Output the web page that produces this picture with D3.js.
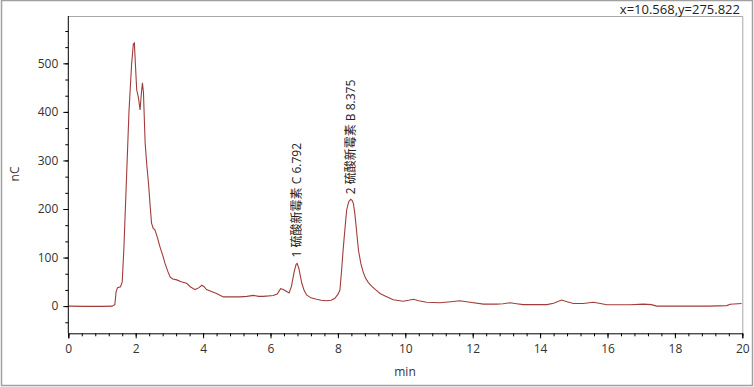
<!DOCTYPE html>
<html><head><meta charset="utf-8">
<script src="https://cdn.jsdelivr.net/npm/d3@7"></script>
<style>
html,body{margin:0;padding:0;background:#fff;}
text{font-family:"Segoe UI","Open Sans","Noto Sans","Noto Sans CJK SC",sans-serif;}
</style></head>
<body><svg id="c" width="754" height="387"></svg>
<script>
const times = [0,0.5,1.0,1.3,1.38,1.42,1.46,1.55,1.60,1.65,1.72,1.80,1.88,1.93,1.96,1.99,2.03,2.08,2.13,2.17,2.20,2.23,2.28,2.33,2.38,2.43,2.47,2.52,2.57,2.65,2.72,2.80,2.87,2.95,3.02,3.10,3.22,3.35,3.51,3.62,3.76,3.88,3.96,4.03,4.10,4.25,4.40,4.60,4.85,5.10,5.30,5.49,5.65,5.78,5.95,6.08,6.20,6.30,6.38,6.48,6.55,6.62,6.70,6.76,6.79,6.84,6.93,7.00,7.07,7.20,7.37,7.50,7.67,7.80,7.91,8.00,8.06,8.11,8.16,8.21,8.26,8.32,8.38,8.42,8.46,8.50,8.54,8.61,8.68,8.75,8.82,8.90,9.00,9.15,9.25,9.40,9.64,9.94,10.10,10.24,10.40,10.63,11.03,11.35,11.62,11.92,12.32,12.71,12.90,13.11,13.30,13.50,14.20,14.40,14.64,14.80,14.99,15.28,15.58,15.75,15.98,16.67,17.06,17.30,17.46,18.10,19.00,19.54,19.64,19.98];
const signal = [0,-0.5,-0.5,0,3,30,38,40,50,120,250,400,500,540,542,500,445,430,404,440,460,440,336,290,253,205,171,160,157,140,122,105,88,72,60,56,54,50,47,40,34,38,43,40,34,30,26,19,19,19,20,22,20,20,21,22,25,36,34,30,27,40,70,86,88,78,47,32,23,17,14,12,11,12,16,24,33,74,120,160,198,215,220,218,211,192,165,115,88,70,58,49,41,32,26,21,13,10,12,14,11,8,7,9,11,8,4,4,5,7,5,3,3,6,12.5,9,5.5,5.5,8,6,2.7,2.7,4,3,0,0,0,1,4,5.5];
const peakTimes = [6.792, 8.375];
const peakHeights = [88, 218];
const peakLabels = ["1 硫酸新霉素 C 6.792", "2 硫酸新霉素 B 8.375"];
const xTicks = [0,2,4,6,8,10,12,14,16,18,20];
const yTicks = [0,100,200,300,400,500];
const cursorText = "x=10.568,y=275.822";
const xLabel = "min", yLabel = "nC";

const svg = d3.select("#c");
const L = 68.3, R = 742.3, T = 16, B = 333.3;
const x = d3.scaleLinear().domain([0,20]).range([L,R]);
const y = d3.scaleLinear().domain([-56,597.5]).range([B,T]);

svg.append("rect").attr("x",1.5).attr("y",0.5).attr("width",751).attr("height",385)
  .attr("fill","none").attr("stroke","#a0a0a0").attr("stroke-width",1.5);
svg.append("path").attr("d",`M${L},${T+0.5}H${R+0.5}V${B}`).attr("fill","none").attr("stroke","#a8a8a8");

svg.append("text").attr("x",740).attr("y",14).attr("text-anchor","end")
  .attr("font-size",13).attr("fill","#222").text(cursorText);

const line = d3.line().x((d,i)=>x(times[i])).y((d,i)=>y(signal[i]));
svg.append("path").datum(signal).attr("d",line).attr("fill","none")
  .attr("stroke","#a13c3c").attr("stroke-width",1.1);

const gx = svg.append("g").attr("transform",`translate(0,${B})`);
gx.call(d3.axisBottom(x).tickValues(d3.range(0,20.001,0.4)).tickSize(3).tickFormat(""));
gx.call(g=>g.select(".domain").remove());
const gx2 = svg.append("g").attr("transform",`translate(0,${B})`);
gx2.call(d3.axisBottom(x).tickValues(xTicks).tickSize(5).tickPadding(6).tickFormat(d3.format("d")));
gx2.selectAll("text").attr("font-size",12).attr("fill","#333").attr("font-family",null);
gx2.select(".domain").attr("stroke","#000");

const gy = svg.append("g").attr("transform",`translate(${L},0)`);
gy.call(d3.axisLeft(y).tickValues(d3.range(-33.333,590,33.3333)).tickSize(3).tickFormat(""));
gy.call(g=>g.select(".domain").remove());
const gy2 = svg.append("g").attr("transform",`translate(${L},0)`);
gy2.call(d3.axisLeft(y).tickValues(yTicks).tickSize(5).tickPadding(5).tickFormat(d3.format("d")));
gy2.selectAll("text").attr("font-size",12).attr("fill","#333").attr("font-family",null);
gy2.select(".domain").attr("stroke","#000").attr("d",`M0,${T}V${B}`);

svg.append("text").attr("x",405).attr("y",376).attr("text-anchor","middle")
  .attr("font-size",12).attr("fill","#333").text(xLabel);
svg.append("text").attr("transform",`translate(19,174) rotate(-90)`).attr("text-anchor","middle")
  .attr("font-size",12).attr("fill","#333").text(yLabel);

peakTimes.forEach((t,i)=>{
  svg.append("text").attr("transform",`translate(${x(t)+4},${y(peakHeights[i])-6}) rotate(-90)`)
    .attr("font-size",12).attr("fill","#222").text(peakLabels[i]);
});
</script></body></html>
